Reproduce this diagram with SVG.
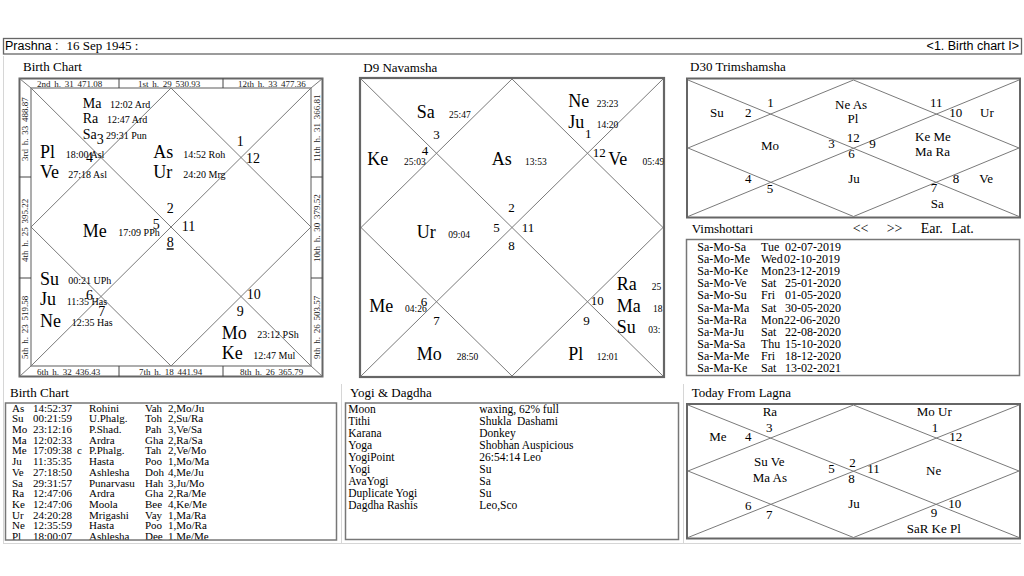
<svg xmlns="http://www.w3.org/2000/svg" width="1024" height="576" viewBox="0 0 1024 576">
<style>
text{font-family:"Liberation Serif","Times New Roman",serif;fill:#000}
.sans{font-family:"Liberation Sans",Arial,sans-serif}
.lbl{font-size:13px}
.big{font-size:18px}
.mid{font-size:14px}
.deg{font-size:10px}
.d9deg{font-size:9.5px}
.num{font-size:14px}
.n13{font-size:13px}
.strip{font-size:9px;fill:#222;word-spacing:1.5px}
.tbl{font-size:11px}
.yog{font-size:11.5px}
.vim{font-size:12px}
.ln{stroke:#7a7a7a;stroke-width:1;fill:none}
.box{stroke:#777;stroke-width:1.5;fill:#fff}
.pane{stroke:#d6d6d6;stroke-width:1;fill:none}
</style>
<defs>
<clipPath id="cD9"><rect x="361" y="79" width="302.5" height="297"/></clipPath>
<clipPath id="cTbl"><rect x="6" y="404" width="330" height="135.5"/></clipPath>
<clipPath id="cVim"><rect x="687" y="240" width="332" height="135"/></clipPath>
</defs>
<rect x="0" y="0" width="1024" height="576" fill="#fff"/>
<g id="panes">
<line class="pane" x1="3.5" y1="56" x2="3.5" y2="543"/>
<line class="pane" x1="3" y1="543.5" x2="1021" y2="543.5"/>
<line class="pane" x1="341.5" y1="384" x2="341.5" y2="543"/>
<line class="pane" x1="683.5" y1="384" x2="683.5" y2="543"/>
</g>
<g id="header">
<rect x="3.5" y="38.5" width="1018" height="15.5" fill="#fff" stroke="#666" stroke-width="1.3"/>
<text class="sans" x="5" y="50" font-size="12.5">Prashna :</text>
<text x="66.5" y="50" font-size="13">16 Sep 1945 :</text>
<text class="sans" x="1019" y="50" font-size="12.5" text-anchor="end">&lt;1. Birth chart I&gt;</text>
</g>
<g id="birth-chart">
<text class="lbl" x="23" y="71">Birth Chart</text>
<rect x="19.5" y="78.5" width="303" height="298" fill="#fff" stroke="#666" stroke-width="2"/>
<rect x="31" y="88" width="280" height="278" fill="none" stroke="#777" stroke-width="1.2"/>
<g class="ln">
<line x1="19.5" y1="78.5" x2="31" y2="88"/>
<line x1="322.5" y1="78.5" x2="311" y2="88"/>
<line x1="19.5" y1="376.5" x2="31" y2="366"/>
<line x1="322.5" y1="376.5" x2="311" y2="366"/>
<line x1="119" y1="78.5" x2="119" y2="88" stroke="#444"/>
<line x1="223" y1="78.5" x2="223" y2="88" stroke="#444"/>
<line x1="119" y1="366" x2="119" y2="376.5" stroke="#444"/>
<line x1="223" y1="366" x2="223" y2="376.5" stroke="#444"/>
<line x1="19.5" y1="177" x2="31" y2="177" stroke="#444"/>
<line x1="19.5" y1="278" x2="31" y2="278" stroke="#444"/>
<line x1="311" y1="177" x2="322.5" y2="177" stroke="#444"/>
<line x1="311" y1="278" x2="322.5" y2="278" stroke="#444"/>
<line x1="31" y1="88" x2="311" y2="366"/>
<line x1="311" y1="88" x2="31" y2="366"/>
<polygon points="171,88 311,227 171,366 31,227"/>
</g>
<text class="strip" x="37" y="87">2nd h. 31 471.08</text>
<text class="strip" x="138" y="87">1st h. 29 530.93</text>
<text class="strip" x="238" y="87">12th h. 33 477.36</text>
<text class="strip" x="37" y="375">6th h. 32 436.43</text>
<text class="strip" x="139" y="375">7th h. 18 441.94</text>
<text class="strip" x="240" y="375">8th h. 26 365.79</text>
<text class="strip" transform="translate(28,161) rotate(-90)">3rd h. 33 488.87</text>
<text class="strip" transform="translate(28,262) rotate(-90)">4th h. 25 395.22</text>
<text class="strip" transform="translate(28,359) rotate(-90)">5th h. 23 519.58</text>
<text class="strip" transform="translate(320,162) rotate(-90)">11th h. 31 366.81</text>
<text class="strip" transform="translate(320,262) rotate(-90)">10th h. 30 379.52</text>
<text class="strip" transform="translate(320,359) rotate(-90)">9th h. 26 503.57</text>
<text class="mid" x="82.7" y="107.7">Ma</text>
<text class="mid" x="82.7" y="123.3">Ra</text>
<text class="mid" x="82.7" y="139">Sa</text>
<text class="deg" x="110" y="107.7">12:02 Ard</text>
<text class="deg" x="107" y="123.3">12:47 Ard</text>
<text class="deg" x="106" y="139">29:31 Pun</text>
<text class="big" x="40" y="158.3">Pl</text>
<text class="big" x="40" y="178.3">Ve</text>
<text class="deg" x="65.7" y="157.7">18:00 Asl</text>
<text class="deg" x="68.3" y="178">27:18 Asl</text>
<text class="big" x="153.3" y="158.3">As</text>
<text class="big" x="153.3" y="178.3">Ur</text>
<text class="deg" x="183.3" y="157.7">14:52 Roh</text>
<text class="deg" x="183.3" y="178">24:20 Mrg</text>
<text class="big" x="82.7" y="236.7">Me</text>
<text class="deg" x="118.3" y="236">17:09 PPh</text>
<text class="big" x="40" y="285">Su</text>
<text class="big" x="40" y="305">Ju</text>
<text class="big" x="40" y="326.7">Ne</text>
<text class="deg" x="68.3" y="284">00:21 UPh</text>
<text class="deg" x="66.7" y="305">11:35 Has</text>
<text class="deg" x="71.7" y="326">12:35 Has</text>
<text class="big" x="221.7" y="339">Mo</text>
<text class="big" x="221.7" y="359.3">Ke</text>
<text class="deg" x="257.3" y="338">23:12 PSh</text>
<text class="deg" x="253.3" y="359">12:47 Mul</text>
<text class="num" x="236.7" y="145.7">1</text>
<text class="num" x="246" y="162.7">12</text>
<text class="num" x="96.7" y="144.3">3</text>
<text class="num" x="86" y="161.7">4</text>
<text class="num" x="166.7" y="213.3">2</text>
<text class="num" x="152.7" y="229.3">5</text>
<text class="num" x="181.7" y="230.7">11</text>
<text class="num" x="166.7" y="247.3" text-decoration="underline">8</text>
<text class="num" x="86" y="300">6</text>
<text class="num" x="98.3" y="316">7</text>
<text class="num" x="246.7" y="299.3">10</text>
<text class="num" x="236.7" y="316">9</text>
</g>
<g id="d9-navamsha">
<text class="lbl" x="363.3" y="71.7">D9 Navamsha</text>
<rect x="360" y="78" width="304" height="299" fill="#fff" stroke="#666" stroke-width="2.2"/>
<g class="ln">
<line x1="361" y1="79" x2="663" y2="376"/>
<line x1="663" y1="79" x2="361" y2="376"/>
<polygon points="512,79 663,227.5 512,376 361,227.5"/>
</g>
<g clip-path="url(#cD9)">
<text class="big" x="416.7" y="118.3">Sa</text>
<text class="d9deg" x="449" y="118">25:47</text>
<text class="big" x="367.3" y="165">Ke</text>
<text class="d9deg" x="404" y="165">25:03</text>
<text class="big" x="491.7" y="165">As</text>
<text class="d9deg" x="525" y="165">13:53</text>
<text class="big" x="568.3" y="106.7">Ne</text>
<text class="d9deg" x="596.7" y="106.7">23:23</text>
<text class="big" x="568.3" y="128.3">Ju</text>
<text class="d9deg" x="596.7" y="128">14:20</text>
<text class="big" x="608.3" y="165">Ve</text>
<text class="d9deg" x="642.5" y="165">05:49</text>
<text class="big" x="416.7" y="237.7">Ur</text>
<text class="d9deg" x="448.3" y="237.7">09:04</text>
<text class="big" x="616.7" y="290">Ra</text>
<text class="d9deg" x="651.7" y="290">25</text>
<text class="big" x="616.7" y="311.7">Ma</text>
<text class="d9deg" x="653" y="311.7">18</text>
<text class="big" x="616.7" y="333.3">Su</text>
<text class="d9deg" x="648.3" y="333.3">03:</text>
<text class="big" x="369.3" y="311.7">Me</text>
<text class="d9deg" x="405" y="311.7">04:26</text>
<text class="big" x="416.7" y="360">Mo</text>
<text class="d9deg" x="456.7" y="360">28:50</text>
<text class="big" x="568.3" y="360">Pl</text>
<text class="d9deg" x="596.7" y="360">12:01</text>
<text class="n13" x="433.3" y="139">3</text>
<text class="n13" x="421.7" y="155">4</text>
<text class="n13" x="585" y="138.3">1</text>
<text class="n13" x="592.7" y="156.7">12</text>
<text class="n13" x="508.3" y="211.7">2</text>
<text class="n13" x="493.3" y="231.7">5</text>
<text class="n13" x="521.7" y="232">11</text>
<text class="n13" x="508.3" y="250">8</text>
<text class="n13" x="590.7" y="305">10</text>
<text class="n13" x="583.3" y="325">9</text>
<text class="n13" x="420.7" y="305.7">6</text>
<text class="n13" x="433.3" y="325">7</text>
</g>
</g>
<g id="d30-trimshamsha">
<text class="lbl" x="690" y="71">D30 Trimshamsha</text>
<rect x="687" y="78.5" width="333" height="139" fill="#fff" stroke="#666" stroke-width="2"/>
<g class="ln">
<line x1="688" y1="80" x2="1019" y2="216.5"/>
<line x1="1019" y1="80" x2="688" y2="216.5"/>
<polygon points="853.5,80 1019,148 853.5,216.5 688,148"/>
</g>
<g class="n13">
<text x="710" y="116.7">Su</text>
<text x="745" y="116.7">2</text>
<text x="767.3" y="106.7">1</text>
<text x="835" y="109">Ne As</text>
<text x="853" y="123.3" text-anchor="middle">Pl</text>
<text x="930" y="106.7">11</text>
<text x="949.3" y="116.7">10</text>
<text x="980" y="116.7">Ur</text>
<text x="761" y="150">Mo</text>
<text x="828.3" y="148.3">3</text>
<text x="846.7" y="141.7">12</text>
<text x="848.3" y="158.3">6</text>
<text x="869.3" y="148.3">9</text>
<text x="915" y="141">Ke Me</text>
<text x="915" y="155.7">Ma Ra</text>
<text x="745" y="183.3">4</text>
<text x="766.7" y="193.3">5</text>
<text x="848.3" y="183.3">Ju</text>
<text x="952.7" y="183.3">8</text>
<text x="930.7" y="191.7">7</text>
<text x="979.3" y="183.3">Ve</text>
<text x="930.7" y="208.3">Sa</text>
</g>
</g>
<g id="vimshottari">
<text class="lbl" x="691.7" y="233.3">Vimshottari</text>
<text x="852.7" y="233.3" font-size="14">&lt;&lt;</text>
<text x="886.7" y="233.3" font-size="14">&gt;&gt;</text>
<text x="920.7" y="233.3" font-size="14">Ear.</text>
<text x="951.7" y="233.3" font-size="14">Lat.</text>
<rect class="box" x="686.5" y="239.5" width="333" height="136"/>
<g class="vim" clip-path="url(#cVim)">
<text x="697.3" y="251">Sa-Mo-Sa</text><text x="761" y="251">Tue</text><text x="785" y="251">02-07-2019</text>
<text x="697.3" y="263.1">Sa-Mo-Me</text><text x="761" y="263.1">Wed</text><text x="784" y="263.1">02-10-2019</text>
<text x="697.3" y="275.2">Sa-Mo-Ke</text><text x="761" y="275.2">Mon</text><text x="784" y="275.2">23-12-2019</text>
<text x="697.3" y="287.3">Sa-Mo-Ve</text><text x="761" y="287.3">Sat</text><text x="785" y="287.3">25-01-2020</text>
<text x="697.3" y="299.4">Sa-Mo-Su</text><text x="761" y="299.4">Fri</text><text x="785" y="299.4">01-05-2020</text>
<text x="697.3" y="311.5">Sa-Ma-Ma</text><text x="761" y="311.5">Sat</text><text x="785" y="311.5">30-05-2020</text>
<text x="697.3" y="323.6">Sa-Ma-Ra</text><text x="761" y="323.6">Mon</text><text x="784" y="323.6">22-06-2020</text>
<text x="697.3" y="335.7">Sa-Ma-Ju</text><text x="761" y="335.7">Sat</text><text x="785" y="335.7">22-08-2020</text>
<text x="697.3" y="347.8">Sa-Ma-Sa</text><text x="761" y="347.8">Thu</text><text x="785" y="347.8">15-10-2020</text>
<text x="697.3" y="359.9">Sa-Ma-Me</text><text x="761" y="359.9">Fri</text><text x="785" y="359.9">18-12-2020</text>
<text x="697.3" y="372">Sa-Ma-Ke</text><text x="761" y="372">Sat</text><text x="785" y="372">13-02-2021</text>
</g>
</g>
<g id="birth-table">
<text class="lbl" x="10" y="396.7">Birth Chart</text>
<rect class="box" x="5.5" y="403" width="331" height="137"/>
<g class="tbl" clip-path="url(#cTbl)">
<g transform="translate(0,411.7)">
<text x="12" y="0">As</text><text x="33" y="0">14:52:37</text><text x="89" y="0">Rohini</text><text x="145" y="0">Vah</text><text x="168" y="0">2,Mo/Ju</text>
<text x="12" y="10.7">Su</text><text x="33" y="10.7">00:21:59</text><text x="89" y="10.7">U.Phalg.</text><text x="145" y="10.7">Toh</text><text x="168" y="10.7">2,Su/Ra</text>
<text x="12" y="21.4">Mo</text><text x="33" y="21.4">23:12:16</text><text x="89" y="21.4">P.Shad.</text><text x="145" y="21.4">Pah</text><text x="168" y="21.4">3,Ve/Sa</text>
<text x="12" y="32.1">Ma</text><text x="33" y="32.1">12:02:33</text><text x="89" y="32.1">Ardra</text><text x="145" y="32.1">Gha</text><text x="168" y="32.1">2,Ra/Sa</text>
<text x="12" y="42.8">Me</text><text x="33" y="42.8">17:09:38</text><text x="77" y="42.8">c</text><text x="89" y="42.8">P.Phalg.</text><text x="145" y="42.8">Tah</text><text x="168" y="42.8">2,Ve/Mo</text>
<text x="12" y="53.5">Ju</text><text x="33" y="53.5">11:35:35</text><text x="89" y="53.5">Hasta</text><text x="145" y="53.5">Poo</text><text x="168" y="53.5">1,Mo/Ma</text>
<text x="12" y="64.2">Ve</text><text x="33" y="64.2">27:18:50</text><text x="89" y="64.2">Ashlesha</text><text x="145" y="64.2">Doh</text><text x="168" y="64.2">4,Me/Ju</text>
<text x="12" y="74.9">Sa</text><text x="33" y="74.9">29:31:57</text><text x="89" y="74.9">Punarvasu</text><text x="145" y="74.9">Hah</text><text x="168" y="74.9">3,Ju/Mo</text>
<text x="12" y="85.6">Ra</text><text x="33" y="85.6">12:47:06</text><text x="89" y="85.6">Ardra</text><text x="145" y="85.6">Gha</text><text x="168" y="85.6">2,Ra/Me</text>
<text x="12" y="96.3">Ke</text><text x="33" y="96.3">12:47:06</text><text x="89" y="96.3">Moola</text><text x="145" y="96.3">Bee</text><text x="168" y="96.3">4,Ke/Me</text>
<text x="12" y="107">Ur</text><text x="33" y="107">24:20:28</text><text x="89" y="107">Mrigashi</text><text x="145" y="107">Vay</text><text x="168" y="107">1,Ma/Ra</text>
<text x="12" y="117.7">Ne</text><text x="33" y="117.7">12:35:59</text><text x="89" y="117.7">Hasta</text><text x="145" y="117.7">Poo</text><text x="168" y="117.7">1,Mo/Ra</text>
<text x="12" y="128.4">Pl</text><text x="33" y="128.4">18:00:07</text><text x="89" y="128.4">Ashlesha</text><text x="145" y="128.4">Dee</text><text x="168" y="128.4">1,Me/Me</text>
</g>
</g>
</g>
<g id="yogi-dagdha">
<text class="lbl" x="350" y="396.7">Yogi &amp; Dagdha</text>
<rect class="box" x="345.5" y="403" width="333" height="136.5"/>
<g class="yog">
<text x="348.3" y="413.3">Moon</text><text x="479.3" y="413.3">waxing, 62% full</text>
<text x="348.3" y="425.3">Tithi</text><text x="479.3" y="425.3" xml:space="preserve">Shukla  Dashami</text>
<text x="348.3" y="437.3">Karana</text><text x="479.3" y="437.3">Donkey</text>
<text x="348.3" y="449.3">Yoga</text><text x="479.3" y="449.3">Shobhan Auspicious</text>
<text x="348.3" y="461.3">YogiPoint</text><text x="479.3" y="461.3">26:54:14 Leo</text>
<text x="348.3" y="473.3">Yogi</text><text x="479.3" y="473.3">Su</text>
<text x="348.3" y="485.3">AvaYogi</text><text x="479.3" y="485.3">Sa</text>
<text x="348.3" y="497.3">Duplicate Yogi</text><text x="479.3" y="497.3">Su</text>
<text x="348.3" y="509.3">Dagdha Rashis</text><text x="479.3" y="509.3">Leo,Sco</text>
</g>
</g>
<g id="today-from-lagna">
<text class="lbl" x="691.7" y="396.7">Today From Lagna</text>
<rect x="687" y="404" width="333" height="134.5" fill="#fff" stroke="#666" stroke-width="2"/>
<g class="ln">
<line x1="688" y1="405" x2="1019" y2="537.5"/>
<line x1="1019" y1="405" x2="688" y2="537.5"/>
<polygon points="853.5,405 1019,471 853.5,537.5 688,471"/>
</g>
<g class="n13">
<text x="762.7" y="416">Ra</text>
<text x="916.7" y="416">Mo Ur</text>
<text x="709.3" y="441">Me</text>
<text x="745" y="441">4</text>
<text x="766" y="432.3">3</text>
<text x="931.7" y="432.3">1</text>
<text x="949.3" y="441">12</text>
<text x="754" y="466">Su Ve</text>
<text x="752.7" y="481.7">Ma As</text>
<text x="828.3" y="473.3">5</text>
<text x="849.3" y="467.3">2</text>
<text x="867.3" y="473.3">11</text>
<text x="848.3" y="483.3">8</text>
<text x="926" y="475">Ne</text>
<text x="745" y="510">6</text>
<text x="766" y="519.3">7</text>
<text x="848.3" y="508.3">Ju</text>
<text x="948.3" y="508.3">10</text>
<text x="930.7" y="516.7">9</text>
<text x="906.7" y="532.7">SaR Ke Pl</text>
</g>
</g>
</svg>
